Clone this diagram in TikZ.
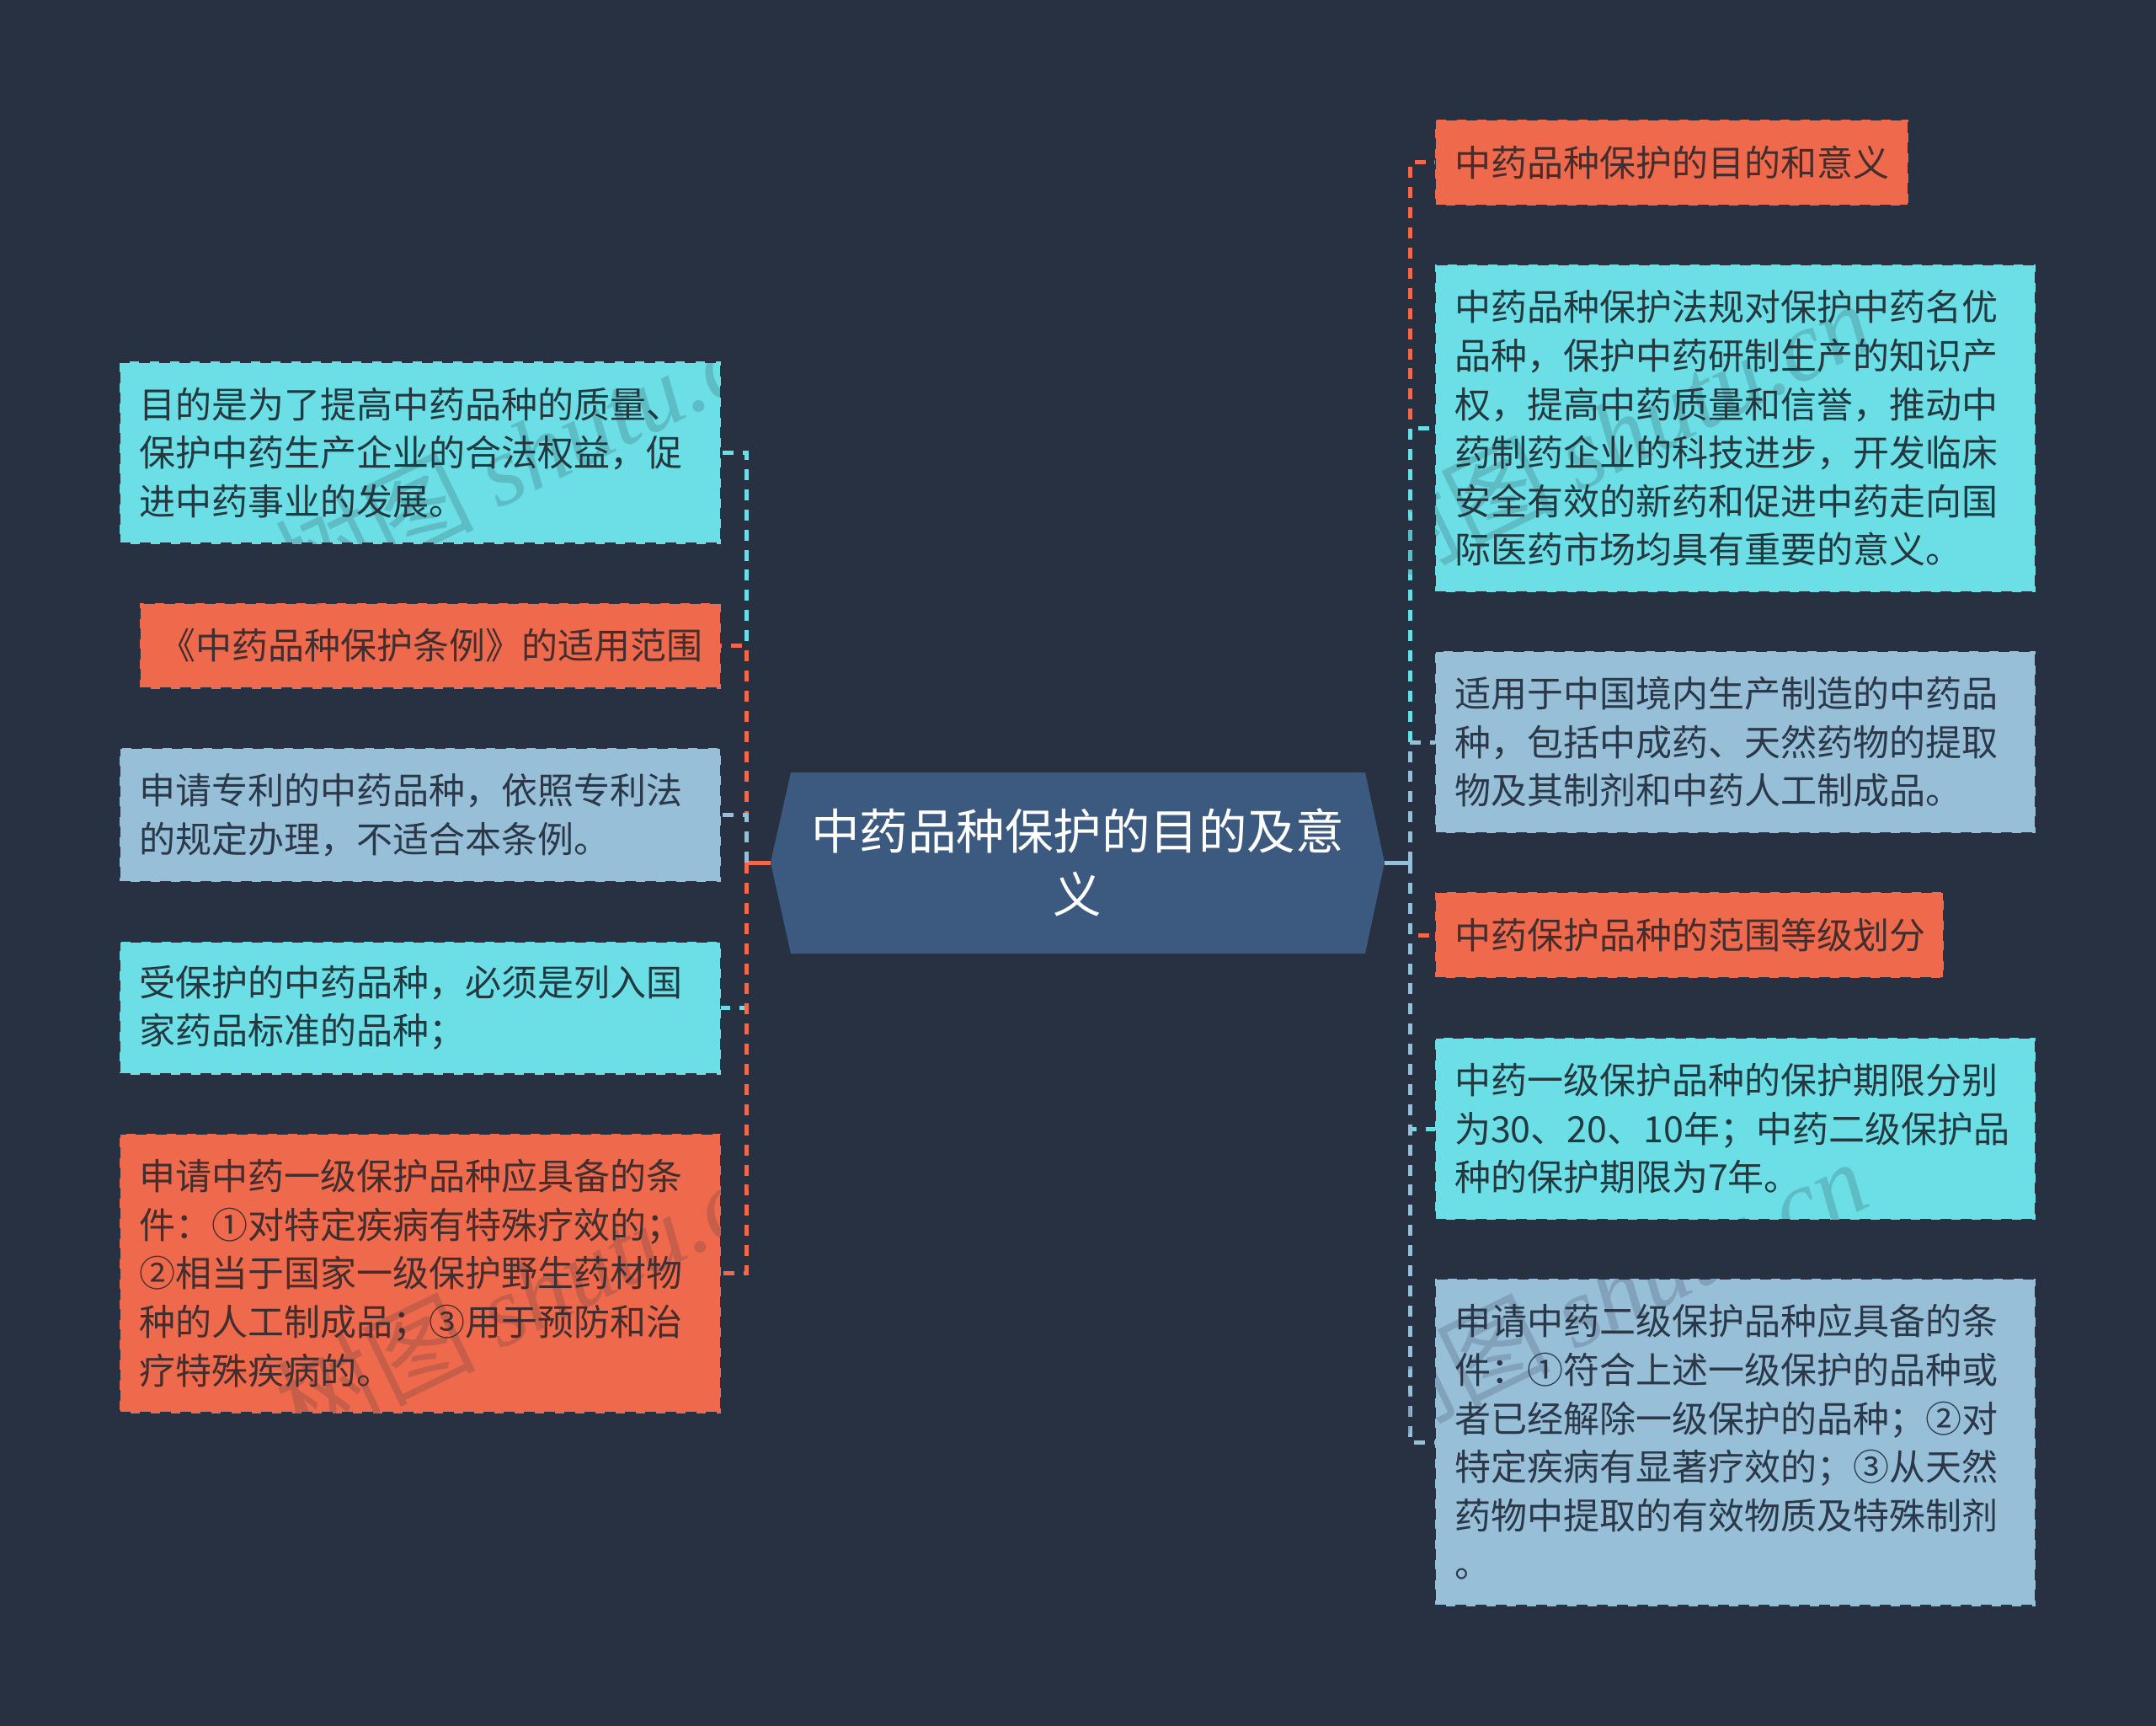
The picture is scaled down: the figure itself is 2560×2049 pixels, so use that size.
\documentclass[tikz,border=0pt]{standalone}
\usepackage{fontspec}
\setmainfont{Noto Sans CJK SC}
\newfontfamily\wmlatin{Liberation Serif}
\definecolor{bgdark}{HTML}{283142}
\definecolor{rootblue}{HTML}{3C5A80}
\definecolor{leafcyan}{HTML}{6BDFE5}
\definecolor{leaforange}{HTML}{EF6A4C}
\definecolor{leafblue}{HTML}{98BFD8}
\definecolor{cyantext}{HTML}{24393F}
\definecolor{orangetext}{HTML}{422E2E}
\definecolor{bluetext}{HTML}{2B3848}
\tikzset{
	leaf/.style={draw=bgdark,line width=2.5pt,dash pattern=on 13pt off 11pt,anchor=west,outer sep=0pt,inner xsep=23pt,inner ysep=0pt,align=left,font=\fontsize{43}{57.6}\selectfont},
	cyanleaf/.style={leaf,fill=leafcyan,text=cyantext},
	orangeleaf/.style={leaf,fill=leaforange,text=orangetext},
	blueleaf/.style={leaf,fill=leafblue,text=bluetext},
	link/.style={line width=5pt,dash pattern=on 13pt off 10.9pt},
	rootlink/.style={line width=5pt},
	mark text/.style={rotate=26,text=bgdark,text opacity=0.2,font=\fontsize{118}{118}\selectfont}
}
\begin{document}
\begin{tikzpicture}[x=1pt,y=-1pt]

	\useasboundingbox (0,0) rectangle (2560,2049);
	\fill[bgdark] (0,0) rectangle (2560,2049);

	\fill[rootblue] (939,917) -- (1621,917) -- (1644,1024) -- (1621,1132) -- (939,1132) -- (915,1024) -- cycle;
	\node (root) at (1279.5,1024) [outer sep=0pt,inner sep=0pt,minimum width=729pt,minimum height=215pt,align=center,text=white,font=\fontsize{57.5}{75}\selectfont] {中药品种保护的目的及意\\义};

	\node (r1) at (1704,193) [orangeleaf,text width=516pt,minimum height=102pt] {中药品种保护的目的和意义};
	\node (r2) at (1704,508.5) [cyanleaf,text width=667pt,minimum height=389pt] {中药品种保护法规对保护中药名优\\品种，保护中药研制生产的知识产\\权，提高中药质量和信誉，推动中\\药制药企业的科技进步，开发临床\\安全有效的新药和促进中药走向国\\际医药市场均具有重要的意义。};
	\node (r3) at (1704,881) [blueleaf,text width=667pt,minimum height=216pt] {适用于中国境内生产制造的中药品\\种，包括中成药、天然药物的提取\\物及其制剂和中药人工制成品。};
	\node (r4) at (1704,1110) [orangeleaf,text width=558pt,minimum height=102pt] {中药保护品种的范围等级划分};
	\node (r5) at (1704,1340) [cyanleaf,text width=667pt,minimum height=216pt] {中药一级保护品种的保护期限分别\\为30、20、10年；中药二级保护品\\种的保护期限为7年。};
	\node (r6) at (1704,1712) [blueleaf,text width=667pt,minimum height=389pt] {申请中药二级保护品种应具备的条\\件：①符合上述一级保护的品种或\\者已经解除一级保护的品种；②对\\特定疾病有显著疗效的；③从天然\\药物中提取的有效物质及特殊制剂\\。};

	\node (l1) at (142,537.5) [cyanleaf,text width=668pt,minimum height=216pt] {目的是为了提高中药品种的质量、\\保护中药生产企业的合法权益，促\\进中药事业的发展。};
	\node (l2) at (166,766.5) [orangeleaf,text width=644pt,minimum height=102pt] {《中药品种保护条例》的适用范围};
	\node (l3) at (142,967.5) [blueleaf,text width=668pt,minimum height=159pt] {申请专利的中药品种，依照专利法\\的规定办理，不适合本条例。};
	\node (l4) at (142,1196.5) [cyanleaf,text width=668pt,minimum height=158pt] {受保护的中药品种，必须是列入国\\家药品标准的品种；};
	\node (l5) at (142,1511.5) [orangeleaf,text width=668pt,minimum height=332pt] {申请中药一级保护品种应具备的条\\件：①对特定疾病有特殊疗效的；\\②相当于国家一级保护野生药材物\\种的人工制成品；③用于预防和治\\疗特殊疾病的。};

	\coordinate (rspine) at (1674,1024);
	\coordinate (lspine) at (886,1024);

	\draw[rootlink,leafblue] (root.east) -- (rspine);
	\draw[link,leaforange] (rspine) |- (r1.west);
	\draw[link,leafcyan] (rspine) |- (r2.west);
	\draw[link,leafblue] (rspine) |- (r3.west);
	\draw[link,leaforange] (rspine) |- (r4.west);
	\draw[link,leafcyan] (rspine) |- (r5.west);
	\draw[link,leafblue] (rspine) |- (r6.west);

	\draw[rootlink,leaforange] (root.west) -- (lspine);
	\draw[link,leafcyan] (lspine) |- (l1.east);
	\draw[link,leaforange] (lspine) |- (l2.east);
	\draw[link,leafblue] (lspine) |- (l3.east);
	\draw[link,leafcyan] (lspine) |- (l4.east);
	\draw[link,leaforange] (lspine) |- (l5.east);

	\foreach \wmname/\wmx/\wmy in {wma/632/535,wmb/634/1533,wmc/1915/515,wmd/1910/1534}
		\node (\wmname) at (\wmx,\wmy) [mark text] {树图 {\wmlatin\itshape shutu.cn}};
	\end{tikzpicture}
\end{document}
